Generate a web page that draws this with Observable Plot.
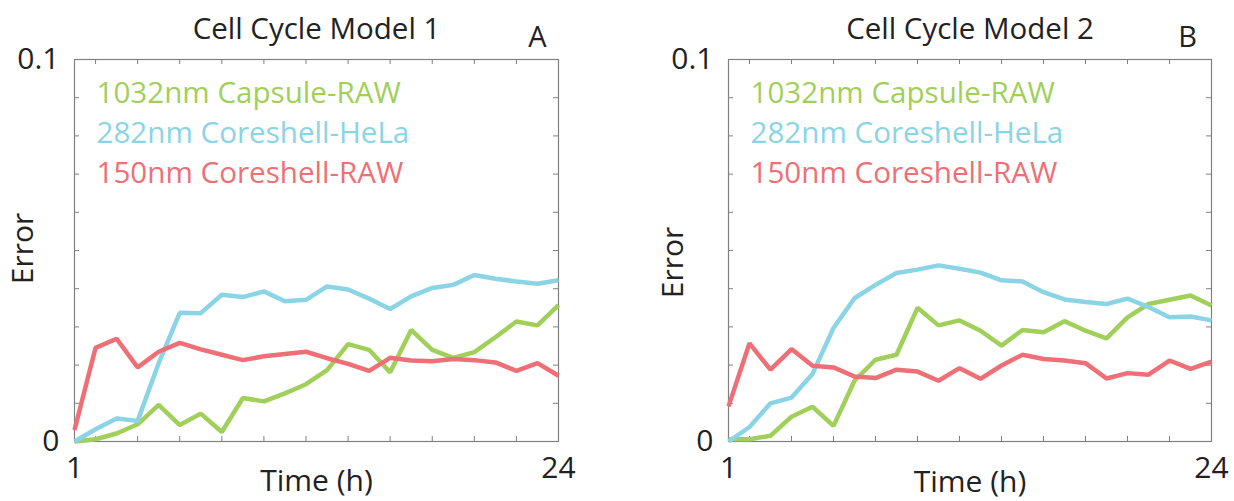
<!DOCTYPE html>
<html>
<head>
<meta charset="utf-8">
<script src="https://cdn.jsdelivr.net/npm/d3@7"></script>
<script src="https://cdn.jsdelivr.net/npm/@observablehq/plot@0.6"></script>
<style>
  html, body { margin: 0; padding: 0; background: #fff; }
  #wrap { position: relative; width: 1234px; height: 501px; overflow: hidden; }
  #wrap svg { position: absolute; top: 0; }
</style>
</head>
<body>
<div id="wrap"></div>
<script>
// Time points (hours)
const hours = [1, 2, 3, 4, 5, 6, 7, 8, 9, 10, 11, 12, 13, 14, 15, 16, 17, 18, 19, 20, 21, 22, 23, 24];

// Series names and colours
const seriesNames = ["1032nm Capsule-RAW", "282nm Coreshell-HeLa", "150nm Coreshell-RAW"];
const seriesColors = ["#a0cf5a", "#8ad4e6", "#ee6f76"];

// Cell Cycle Model 1 errors
const m1Capsule = [0, 0.0006, 0.0021, 0.0045, 0.0096, 0.0043, 0.0073, 0.0025, 0.0114, 0.0105, 0.0126, 0.015,
                   0.0187, 0.0255, 0.024, 0.0181, 0.0292, 0.024, 0.0219, 0.0234, 0.0273, 0.0314, 0.0304, 0.0357];
const m1HeLa    = [0, 0.0032, 0.006, 0.0054, 0.0205, 0.0337, 0.0336, 0.0384, 0.0378, 0.0393, 0.0367, 0.0371,
                   0.0406, 0.0398, 0.0374, 0.0347, 0.038, 0.0402, 0.041, 0.0436, 0.0426, 0.0419, 0.0413, 0.0422];
const m1Raw     = [0.003, 0.0245, 0.0269, 0.0194, 0.0235, 0.0258, 0.0241, 0.0227, 0.0213, 0.0223, 0.0229, 0.0235,
                   0.0218, 0.0203, 0.0185, 0.0219, 0.0212, 0.021, 0.0216, 0.0213, 0.0207, 0.0185, 0.0205, 0.0172];

// Cell Cycle Model 2 errors
const m2Capsule = [0.0006, 0.0006, 0.0015, 0.0065, 0.0091, 0.0041, 0.0159, 0.0214, 0.0227, 0.035, 0.0304, 0.0317,
                   0.029, 0.0251, 0.0292, 0.0286, 0.0315, 0.029, 0.027, 0.0325, 0.036, 0.0371, 0.0382, 0.0356];
const m2HeLa    = [0, 0.0038, 0.01, 0.0115, 0.0177, 0.0297, 0.0375, 0.041, 0.0441, 0.045, 0.0461, 0.0452,
                   0.0442, 0.0422, 0.0419, 0.0391, 0.0372, 0.0365, 0.036, 0.0374, 0.0352, 0.0325, 0.0327, 0.0317];
const m2Raw     = [0.0092, 0.0257, 0.0188, 0.0242, 0.0198, 0.0194, 0.017, 0.0166, 0.0188, 0.0183, 0.0159, 0.0192,
                   0.0164, 0.0199, 0.0227, 0.0216, 0.0212, 0.0205, 0.0165, 0.0179, 0.0175, 0.0212, 0.019, 0.0209];

// Axis ticks and labels
const yTicks = [0, 0.01, 0.02, 0.03, 0.04, 0.05, 0.06, 0.07, 0.08, 0.09, 0.1];
const xTicks = [2, 4, 6, 8, 10, 12, 14, 16, 18, 20, 22];
const yTickLabels = [0, 0.1];
const xTickLabels = [1, 24];
const xLabel = "Time (h)";
const yLabel = "Error";

const font = "'Open Sans', 'Noto Sans', sans-serif";
const axisGray = "#808080";
const ink = "#222";

function panel({title, letter, series, marginLeft, marginRight, letterDx, yLabelDx, yLabelDy, xLabelDy}) {
  const W = 617, H = 501, mt = 59, mb = 60;
  const fw = W - marginLeft - marginRight;
  const fh = H - mt - mb;
  const rows = series.flatMap((vals, s) =>
    hours.map((h, i) => ({hour: h, error: vals[i], name: seriesNames[s]})));
  const label = (txt, o) => Plot.text([txt], {text: d => d, lineAnchor: "middle", fill: ink, ...o});
  return Plot.plot({
    width: W, height: H,
    marginLeft, marginRight, marginTop: mt, marginBottom: mb,
    style: {fontFamily: font, color: ink, background: "transparent", overflow: "visible"},
    x: {domain: [1, 24], label: null},
    y: {domain: [0, 0.1], label: null},
    color: {domain: seriesNames, range: seriesColors},
    marks: [
      // inward tick marks on all four sides
      Plot.tickY(yTicks, {y: d => d, stroke: axisGray, insetRight: fw - 5}),
      Plot.tickY(yTicks, {y: d => d, stroke: axisGray, insetLeft: fw - 5}),
      Plot.tickX(xTicks, {x: d => d, stroke: axisGray, insetTop: fh - 5}),
      Plot.tickX(xTicks, {x: d => d, stroke: axisGray, insetBottom: fh - 5}),
      Plot.frame({stroke: axisGray, strokeWidth: 1.2}),
      // end-point tick labels
      Plot.axisY({ticks: yTickLabels, tickSize: 0, tickPadding: 15, fontSize: 30,
                  tickFormat: d => d === 0 ? "0" : "0.1", label: null}),
      Plot.axisX({ticks: xTickLabels, tickSize: 0, tickPadding: 15, fontSize: 30,
                  tickFormat: d => String(d), label: null}),
      // error curves
      Plot.line(rows, {x: "hour", y: "error", z: "name", stroke: "name",
                       strokeWidth: 4.5, strokeLinejoin: "miter", strokeLinecap: "butt"}),
      // in-plot legend
      ...seriesNames.map((name, i) =>
        label(name, {frameAnchor: "top-left", textAnchor: "start",
                     dx: 22, dy: 34 + i * 40, fontSize: 29.6, fill: seriesColors[i]})),
      // titles and axis names
      label(title, {frameAnchor: "top", textAnchor: "middle", dy: -30, fontSize: 29.5}),
      label(letter, {frameAnchor: "top-right", textAnchor: "middle", dx: letterDx, dy: -22, fontSize: 29}),
      label(xLabel, {frameAnchor: "bottom", textAnchor: "middle", dy: xLabelDy, fontSize: 30}),
      label(yLabel, {frameAnchor: "left", textAnchor: "middle", dx: yLabelDx, dy: yLabelDy, rotate: -90, fontSize: 30})
    ]
  });
}

const wrap = document.getElementById("wrap");
const a = panel({title: "Cell Cycle Model 1", letter: "A", series: [m1Capsule, m1HeLa, m1Raw],
                 marginLeft: 74, marginRight: 59, letterDx: -21, yLabelDx: -51, yLabelDy: -2, xLabelDy: 40});
a.style.left = "0px";
wrap.appendChild(a);
const b = panel({title: "Cell Cycle Model 2", letter: "B", series: [m2Capsule, m2HeLa, m2Raw],
                 marginLeft: 111, marginRight: 23, letterDx: -24, yLabelDx: -55, yLabelDy: 12, xLabelDy: 41});
b.style.left = "617px";
wrap.appendChild(b);
</script>
</body>
</html>
